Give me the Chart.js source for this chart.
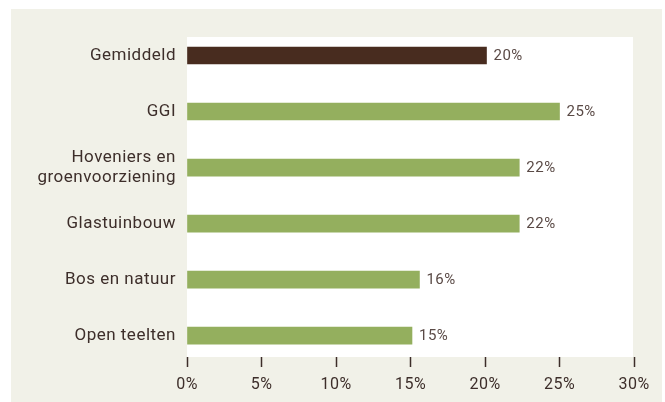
<!DOCTYPE html>
<html>
<head>
<meta charset="utf-8">
<script src="https://cdn.jsdelivr.net/npm/chart.js@4.4.1/dist/chart.umd.min.js"></script>
<style>
  html, body { margin: 0; padding: 0; background: #fff; }
  #wrap { width: 665px; height: 402px; position: relative; }
</style>
</head>
<body>
<div id="wrap"><canvas id="chart" width="665" height="402"></canvas></div>
<script>
// categories, top to bottom
const categories = [
  'Gemiddeld',
  'GGI',
  ['Hoveniers en', 'groenvoorziening'],
  'Glastuinbouw',
  'Bos en natuur',
  'Open teelten'
];
// share in percent
const shares = [20.1, 25.0, 22.3, 22.3, 15.6, 15.1];
// printed value labels
const shareLabels = ['20%', '25%', '22%', '22%', '16%', '15%'];
const xTicks = [0, 5, 10, 15, 20, 25, 30];

const BROWN = '#482c1f';
const GREEN = '#94af5e';
const TEXT = '#3d2e2a';
const FONT = 'Roboto, "DejaVu Sans", sans-serif';

// beige panel + white plot box
const panelBg = {
  id: 'panelBg',
  beforeDraw(chart) {
    const { ctx, chartArea } = chart;
    ctx.save();
    ctx.fillStyle = '#f1f1e8';
    ctx.fillRect(11, 9, 651, 393);
    ctx.fillStyle = '#ffffff';
    ctx.fillRect(chartArea.left, chartArea.top, chartArea.right - chartArea.left - 1, chartArea.bottom - chartArea.top);
    ctx.restore();
    // the original type is a bit wider than Roboto
    ctx.letterSpacing = '0.5px';
  }
};

// value labels at the end of each bar
const valueLabels = {
  id: 'valueLabels',
  afterDatasetsDraw(chart) {
    const { ctx } = chart;
    const meta = chart.getDatasetMeta(0);
    ctx.save();
    ctx.font = '15px ' + FONT;
    ctx.fillStyle = '#5a4a46';
    ctx.textAlign = 'left';
    ctx.textBaseline = 'middle';
    meta.data.forEach((bar, i) => {
      ctx.fillText(shareLabels[i], bar.x + 7, bar.y + 1);
    });
    ctx.restore();
  }
};

new Chart(document.getElementById('chart'), {
  type: 'bar',
  data: {
    datasets: [{
      data: shares.map((v, i) => ({ x: v, y: i })),
      backgroundColor: shares.map((v, i) => i === 0 ? BROWN : GREEN),
      barThickness: 17,
      borderWidth: 0
    }]
  },
  options: {
    indexAxis: 'y',
    responsive: false,
    animation: false,
    layout: { padding: { top: 37, right: 31, bottom: 0, left: 0 } },
    plugins: {
      legend: { display: false },
      tooltip: { enabled: false }
    },
    scales: {
      x: {
        type: 'linear',
        min: 0,
        max: 30,
        afterBuildTicks(scale) { scale.ticks = xTicks.map(v => ({ value: v })); },
        afterFit(scale) { scale.height = 45; },
        border: { display: false },
        grid: {
          drawOnChartArea: false,
          drawTicks: true,
          tickLength: 10,
          tickColor: TEXT,
          tickWidth: 1.5
        },
        ticks: {
          padding: 8,
          color: TEXT,
          font: { family: FONT, size: 16 },
          callback: v => v + '%'
        }
      },
      y: {
        type: 'linear',
        reverse: true,
        offset: false,
        min: -0.33,
        max: 5.38,
        afterBuildTicks(scale) { scale.ticks = categories.map((c, i) => ({ value: i })); },
        afterFit(scale) { scale.width = 187; },
        border: { display: false },
        grid: { display: false, drawTicks: false, offset: false },
        ticks: {
          padding: 11,
          color: TEXT,
          font: { family: FONT, size: 17, lineHeight: 1.2 },
          callback: v => categories[v]
        }
      }
    }
  },
  plugins: [panelBg, valueLabels]
});
</script>
</body>
</html>
